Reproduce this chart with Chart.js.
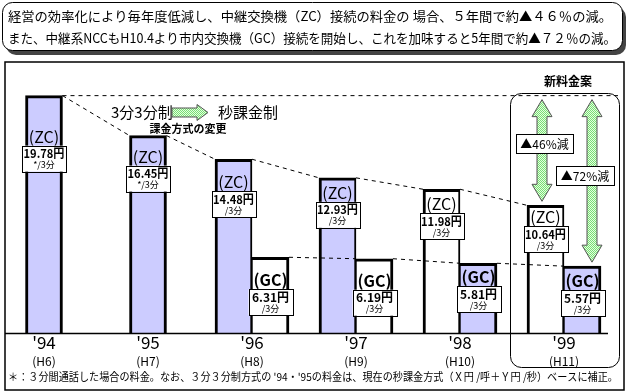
<!DOCTYPE html>
<html>
<head>
<meta charset="utf-8">
<script src="https://cdn.jsdelivr.net/npm/chart.js@4"></script>
<style>
  html, body { margin: 0; padding: 0; background: #fff; }
  #wrap { width: 630px; height: 392px; position: relative; }
</style>
</head>
<body>
<div id="wrap"><canvas id="myChart" width="630" height="392"></canvas></div>
<script>
// Chart data
var years = ["'94", "'95", "'96", "'97", "'98", "'99"];
var heisei = ["(H6)", "(H7)", "(H8)", "(H9)", "(H10)", "(H11)"];
var zcRates = [19.78, 16.45, 14.48, 12.93, 11.98, 10.64]; // 中継交換機接続 (円/3分)
var gcRates = [null, null, 6.31, 6.19, 5.81, 5.57];       // 市内交換機接続 (円/3分)
var zcNotes = ["*/3分", "*/3分", "/3分", "/3分", "/3分", "/3分"];
var gcNotes = ["", "", "/3分", "/3分", "/3分", "/3分"];
var cutZC = "▲46%減";
var cutAll = "▲72%減";

var PURPLE = '#ccccff';
var zcFill = [PURPLE, PURPLE, PURPLE, PURPLE, '#ffffff', '#ffffff'];
var gcFill = [null, null, '#ffffff', '#ffffff', PURPLE, PURPLE];

var JP = '"Noto Sans CJK JP", "Noto Sans", sans-serif';

function greenPattern(ctx) {
    const c = document.createElement('canvas');
    c.width = 2; c.height = 2;
    const g = c.getContext('2d');
    g.fillStyle = '#e4ffdc';
    g.fillRect(0, 0, 2, 2);
    g.fillStyle = '#77dd77';
    g.fillRect(0, 0, 1, 1);
    g.fillRect(1, 1, 1, 1);
    return ctx.createPattern(c, 'repeat');
}

// Text squeezed/stretched to a given width
function fitText(ctx, text, x, y, width) {
    const w = ctx.measureText(text).width;
    ctx.save();
    ctx.translate(x, y);
    ctx.scale(width / w, 1);
    ctx.fillText(text, 0, 0);
    ctx.restore();
}

function roundRect(ctx, x, y, w, h, r) {
    ctx.beginPath();
    ctx.moveTo(x + r, y);
    ctx.arcTo(x + w, y, x + w, y + h, r);
    ctx.arcTo(x + w, y + h, x, y + h, r);
    ctx.arcTo(x, y + h, x, y, r);
    ctx.arcTo(x, y, x + w, y, r);
    ctx.closePath();
}

function vArrow(ctx, cx, y1, y2, fill) {
    const sw = 5, hw = 10, hl = 17;
    ctx.beginPath();
    ctx.moveTo(cx, y1);
    ctx.lineTo(cx + hw, y1 + hl);
    ctx.lineTo(cx + sw, y1 + hl);
    ctx.lineTo(cx + sw, y2 - hl);
    ctx.lineTo(cx + hw, y2 - hl);
    ctx.lineTo(cx, y2);
    ctx.lineTo(cx - hw, y2 - hl);
    ctx.lineTo(cx - sw, y2 - hl);
    ctx.lineTo(cx - sw, y1 + hl);
    ctx.lineTo(cx - hw, y1 + hl);
    ctx.closePath();
    ctx.fillStyle = fill;
    ctx.fill();
    ctx.strokeStyle = '#555';
    ctx.lineWidth = 1;
    ctx.stroke();
}

function labelBox(ctx, cx, top, text, w, h, font) {
    ctx.fillStyle = '#fff';
    ctx.fillRect(cx - w / 2, top, w, h);
    ctx.strokeStyle = '#000';
    ctx.lineWidth = 1;
    ctx.strokeRect(Math.round(cx - w / 2) + 0.5, Math.round(top) + 0.5, w, h);
    ctx.fillStyle = '#000';
    ctx.font = font;
    ctx.textAlign = 'center';
    ctx.textBaseline = 'middle';
    ctx.fillText(text, cx, top + h / 2 + 1);
}

// how far the value boxes sit below the bar tops
var zcDrop = [50, 30, 32, 24, 24, 21];
var gcDrop = [0, 0, 32, 31, 23, 24];

const decorations = {
    id: 'decorations',
    beforeDraw(chart) {
        const ctx = chart.ctx;
        ctx.save();
        ctx.fillStyle = '#fff';
        ctx.fillRect(0, 0, chart.width, chart.height);

        // heading box with shadow
        roundRect(ctx, 6, 7, 620, 48, 10);
        ctx.fillStyle = '#444';
        ctx.fill();
        roundRect(ctx, 2.5, 2.5, 620, 48, 10);
        ctx.fillStyle = '#fff';
        ctx.fill();
        ctx.strokeStyle = '#000';
        ctx.lineWidth = 1;
        ctx.stroke();
        ctx.fillStyle = '#000';
        ctx.font = '13px ' + JP;
        ctx.textAlign = 'left';
        ctx.textBaseline = 'middle';
        fitText(ctx, '経営の効率化により毎年度低減し、中継交換機（ZC）接続の料金の 場合、５年間で約▲４６％の減。', 8, 16, 604);
        fitText(ctx, 'また、中継系NCCもH10.4より市内交換機（GC）接続を開始し、これを加味すると5年間で約▲７２％の減。', 8, 38, 608);

        // outer frame
        ctx.strokeStyle = '#000';
        ctx.lineWidth = 1.5;
        ctx.strokeRect(5, 62, 619, 328);
        ctx.restore();
    },
    afterDatasetsDraw(chart) {
        const ctx = chart.ctx;
        const x = chart.scales.x, y = chart.scales.y;
        const zc = chart.getDatasetMeta(0).data;
        const gc = chart.getDatasetMeta(1).data;
        const green = greenPattern(ctx);
        ctx.save();

        // baseline
        const base = Math.round(y.getPixelForValue(0)) + 0.5;
        ctx.strokeStyle = '#000';
        ctx.lineWidth = 1.5;
        ctx.beginPath();
        ctx.moveTo(5, base);
        ctx.lineTo(608, base);
        ctx.stroke();

        // rounded box round the new plan
        ctx.lineWidth = 1;
        roundRect(ctx, 510.5, 93.5, 109, 274, 11);
        ctx.stroke();
        ctx.font = 'bold 12px ' + JP;
        ctx.textAlign = 'center';
        ctx.textBaseline = 'middle';
        ctx.fillStyle = '#000';
        ctx.fillText('新料金案', 568, 81);

        // dashed trend lines
        ctx.setLineDash([4, 4]);
        ctx.lineWidth = 1;
        ctx.beginPath();
        ctx.moveTo(zc[0].x + zc[0].width / 2, zc[0].y);
        ctx.lineTo(618, zc[0].y);
        for (let i = 0; i < zc.length - 1; i++) {
            const a = zc[i], b = zc[i + 1];
            ctx.moveTo(a.x + a.width / 2, a.y);
            ctx.lineTo(b.x - b.width / 2, b.y);
        }
        for (let i = 2; i < gc.length - 1; i++) {
            const a = gc[i], b = gc[i + 1];
            ctx.moveTo(a.x + a.width / 2, a.y);
            ctx.lineTo(b.x - b.width / 2, b.y);
        }
        ctx.stroke();
        ctx.setLineDash([]);

        // 3分3分制 -> 秒課金制
        ctx.fillStyle = '#000';
        ctx.font = '15px ' + JP;
        ctx.textAlign = 'left';
        ctx.fillText('3分3分制', 111, 112);
        ctx.fillText('秒課金制', 218, 112);
        ctx.beginPath();
        ctx.moveTo(172, 108); ctx.lineTo(197, 108); ctx.lineTo(197, 104.5);
        ctx.lineTo(208, 112.5); ctx.lineTo(197, 120.5); ctx.lineTo(197, 117);
        ctx.lineTo(172, 117); ctx.closePath();
        ctx.fillStyle = green;
        ctx.fill();
        ctx.strokeStyle = '#555';
        ctx.stroke();
        ctx.fillStyle = '#000';
        ctx.font = 'bold 11px ' + JP;
        ctx.textAlign = 'center';
        ctx.fillText('課金方式の変更', 188, 129);

        // reduction arrows
        const last = zc.length - 1;
        vArrow(ctx, 542, zc[0].y + 4, zc[last].y - 4, green);
        vArrow(ctx, 592, zc[0].y + 4, gc[last].y - 4, green);
        labelBox(ctx, 544.5, 134, cutZC, 57, 19, '12px ' + JP);
        labelBox(ctx, 585, 166, cutAll, 58, 19, '12px ' + JP);

        // bar labels
        function barLabel(bar, drop, kind, value, note) {
            const top = bar.y + drop;
            ctx.fillStyle = '#000';
            ctx.font = (kind === 'GC' ? 'bold ' : '') + '16px ' + JP;
            ctx.textAlign = 'center';
            ctx.textBaseline = 'middle';
            ctx.fillText('(' + kind + ')', bar.x, top - 9);
            const w = 44, h = 26;
            ctx.fillStyle = '#fff';
            ctx.fillRect(bar.x - w / 2, top, w, h);
            ctx.strokeStyle = '#000';
            ctx.lineWidth = 1;
            ctx.strokeRect(Math.round(bar.x - w / 2) + 0.5, Math.round(top) + 0.5, w, h);
            ctx.fillStyle = '#000';
            ctx.font = 'bold 12px ' + JP;
            ctx.fillText(value.toFixed(2) + '円', bar.x, top + 8, w - 3);
            ctx.font = '9px ' + JP;
            ctx.fillText(note, bar.x, top + 19);
        }
        zc.forEach((bar, i) => barLabel(bar, zcDrop[i], 'ZC', zcRates[i], zcNotes[i]));
        gc.forEach((bar, i) => {
            if (gcRates[i] != null) barLabel(bar, gcDrop[i], 'GC', gcRates[i], gcNotes[i]);
        });

        // category labels
        years.forEach((yr, i) => {
            const cx = x.getPixelForValue(i);
            ctx.font = '17px ' + JP;
            ctx.fillText(yr, cx, 343);
            ctx.font = '12px ' + JP;
            ctx.fillText(heisei[i], cx, 361);
        });

        // footnote
        ctx.font = '11px ' + JP;
        ctx.textAlign = 'left';
        fitText(ctx, '＊：３分間通話した場合の料金。なお、３分３分制方式の \'94・\'95の料金は、現在の秒課金方式（Ｘ円 /呼＋Ｙ円 /秒）ベースに補正。', 8, 377, 610);
        ctx.restore();
    }
};

function sideWidths(mainIsZc) {
    return function(c) {
        const pair = gcRates[c.dataIndex] != null;
        if (mainIsZc) return { top: 3, left: 3, bottom: 0, right: pair ? 2 : 3 };
        return { top: 3, left: 1, bottom: 0, right: 3 };
    };
}

new Chart("myChart", {
    type: "bar",
    data: {
        labels: years,
        datasets: [{
            label: 'ZC',
            data: zcRates,
            backgroundColor: zcFill,
            borderColor: '#000',
            borderWidth: sideWidths(true),
            borderSkipped: false,
            barThickness: 37,
            skipNull: true,
            clip: false
        }, {
            label: 'GC',
            data: gcRates,
            backgroundColor: gcFill,
            borderColor: '#000',
            borderWidth: sideWidths(false),
            borderSkipped: false,
            barThickness: 37,
            skipNull: true,
            clip: false
        }]
    },
    options: {
        responsive: false,
        animation: false,
        layout: { padding: { left: 44, right: 66, top: 69, bottom: 59 } },
        plugins: {
            legend: { display: false },
            tooltip: { enabled: false }
        },
        scales: {
            x: { display: false, offset: false },
            y: { display: false, min: 0, max: 22 }
        }
    },
    plugins: [decorations]
});
</script>
</body>
</html>
